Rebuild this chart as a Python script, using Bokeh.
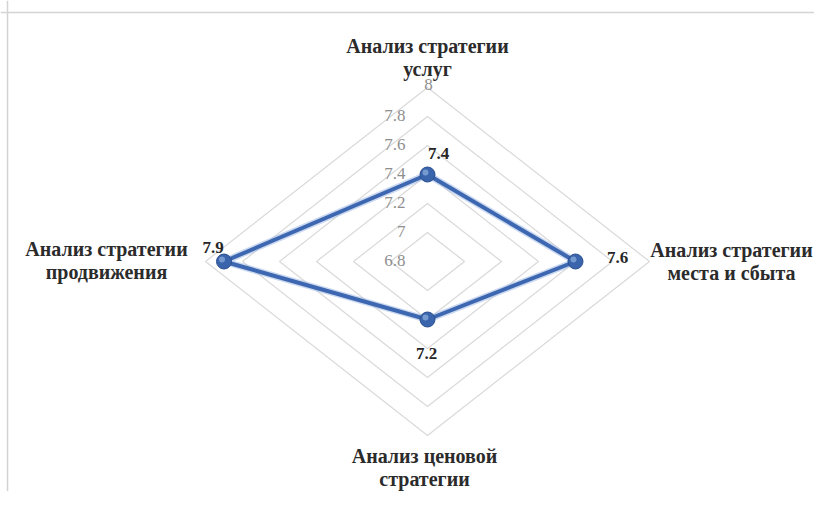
from bokeh.plotting import figure
from bokeh.models import Range1d, Span, ColumnDataSource, Label
from bokeh.core.properties import value
from bokeh.embed import file_html
from bokeh.resources import INLINE

# ---- data ----
categories = ["Анализ стратегии\nуслуг", "Анализ стратегии\nместа и сбыта",
              "Анализ ценовой\nстратегии", "Анализ стратегии\nпродвижения"]
values = [7.4, 7.6, 7.2, 7.9]
value_labels = ["7.4", "7.6", "7.2", "7.9"]
ticks = [6.8, 7.0, 7.2, 7.4, 7.6, 7.8, 8.0]
tick_labels = ["6.8", "7", "7.2", "7.4", "7.6", "7.8", "8"]
axis_min, axis_max = 6.8, 8.0

# directions of the four spokes: top, right, bottom, left
dirs = [(0, 1), (1, 0), (0, -1), (-1, 0)]

def proj(v, d):
    r = v - axis_min
    return d[0] * r, d[1] * r

# layout: pixel scale (x: 185 px/unit, y: 145 px/unit)
W, H = 814, 491
SX, SY = 185.0, 145.0
CX, CY = 427.0, 261.0

FONT = "Liberation Serif"

p = figure(width=W, height=H, output_backend="svg", toolbar_location=None,
           x_range=Range1d(-CX / SX, (W - CX) / SX),
           y_range=Range1d(-(H - CY) / SY, CY / SY),
           min_border=0, outline_line_color=None)
p.axis.visible = False
p.grid.visible = False

# chart frame (top and left edges)
p.add_layout(Span(location=(CY - 12) / SY, dimension="width", line_color="#d4d4d4", line_width=1.5))
p.add_layout(Span(location=-(CX - 7) / SX, dimension="height", line_color="#d4d4d4", line_width=1.5))

# grid rings
for t in ticks[1:]:
    xs, ys = [], []
    for d in dirs + [dirs[0]]:
        x, y = proj(t, d)
        xs.append(x); ys.append(y)
    p.line(xs, ys, line_color="#d9d9d9", line_width=1.2)

# tick labels along the top spoke
tx, ty, tt, ta = [], [], [], []
for t, lab in zip(ticks, tick_labels):
    x, y = proj(t, dirs[0])
    if lab == "8":
        tx.append(x + 1 / SX); ty.append(y + 3 / SY); ta.append("center")
    else:
        tx.append(x - 22 / SX); ty.append(y + 1 / SY); ta.append("right")
    tt.append(lab)
tsrc = ColumnDataSource(dict(x=tx, y=ty, t=tt, a=ta))
p.text(x="x", y="y", text="t", text_align="a", source=tsrc, text_baseline="middle",
       text_font=value(FONT), text_font_size="17px", text_color="#8f8f8f")

# series polygon
px, py = [], []
for v, d in zip(values + [values[0]], dirs + [dirs[0]]):
    x, y = proj(v, d)
    px.append(x); py.append(y)
p.line(px, py, line_color="#a9c0e6", line_width=7, line_alpha=0.6, line_join="round")
p.line(px, py, line_color="#3d67b1", line_width=4, line_join="round")

mx = px[:-1]; my = py[:-1]
src = ColumnDataSource(dict(x=mx, y=my))
p.scatter(x="x", y="y", source=src, marker="circle", size=15,
          fill_color="#3a64ab", line_color="#2b4f8f", line_width=1)
hsrc = ColumnDataSource(dict(x=[x - 2 / SX for x in mx], y=[y + 2 / SY for y in my]))
p.scatter(x="x", y="y", source=hsrc, marker="circle", size=6,
          fill_color="#8fb0e0", line_color=None, fill_alpha=0.7)

# value labels (Label annotations)
offsets = [(11, 21), (42, 4), (-1, -34), (-11, 14)]
for (x, y), (ox, oy), lab in zip(zip(mx, my), offsets, value_labels):
    p.add_layout(Label(x=x + ox / SX, y=y + oy / SY, text=lab, text_align="center",
                       text_baseline="middle", text_font=FONT, text_font_style="bold",
                       text_font_size="17px", text_color="#262626"))

# category labels
cat_pos = [(427, 57), (731, 261), (424, 467), (106, 260)]  # reference pixel positions
for (a, b), cat in zip(cat_pos, categories):
    p.add_layout(Label(x=(a - CX) / SX, y=(CY - b) / SY, text=cat, text_align="center",
                       text_baseline="middle", text_font=FONT, text_font_style="bold",
                       text_font_size="20px", text_color="#2b2b2b", text_line_height=1.05))

open("out.html", "w").write(file_html(p, INLINE))
